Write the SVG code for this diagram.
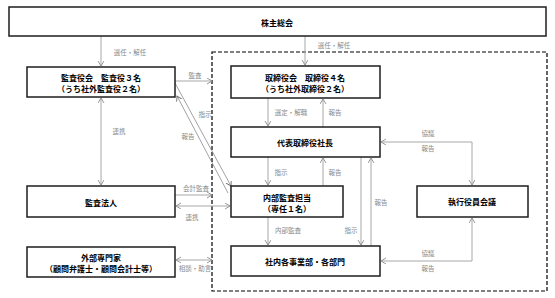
<svg xmlns="http://www.w3.org/2000/svg" width="555" height="298" viewBox="0 0 555 298">
<defs>
<marker id="arr" markerUnits="userSpaceOnUse" markerWidth="8" markerHeight="8" refX="5" refY="3" orient="auto-start-reverse" viewBox="0 0 8 8">
<path d="M0,0 L5,3 L0,6" fill="none" stroke="#8c8c8c" stroke-width="0.9"/>
</marker>
<marker id="arrd" markerUnits="userSpaceOnUse" markerWidth="8" markerHeight="8" refX="5" refY="3" orient="auto-start-reverse" viewBox="0 0 8 8">
<path d="M0,0 L5,3 L0,6" fill="none" stroke="#6e6e6e" stroke-width="0.9"/>
</marker>
</defs>
<style>
.box{fill:#fff;stroke:#1e1e1e;stroke-width:1.5}
.bt{font-family:"Noto Sans CJK JP","Noto Sans CJK SC",sans-serif;font-size:8px;font-weight:bold;fill:#000;text-anchor:middle;dominant-baseline:central}
.lbl{font-family:"Noto Sans CJK JP","Noto Sans CJK SC",sans-serif;font-size:6.5px;fill:#8a8a8a;text-anchor:middle;dominant-baseline:central}
.ln{fill:none;stroke:#a8a8a8;stroke-width:1;marker-end:url(#arr)}
.ln2{fill:none;stroke:#a8a8a8;stroke-width:1;marker-start:url(#arr);marker-end:url(#arr)}
.dg{fill:none;stroke:#7a7a7a;stroke-width:0.7;marker-end:url(#arrd)}
</style>
<rect x="0" y="0" width="555" height="298" fill="#fff"/>
<rect id="exec-area" x="212" y="52" width="335" height="239" fill="none" stroke="#000" stroke-width="1.2" stroke-dasharray="4,2"/>
<g id="connectors">
<line class="ln" x1="101" y1="36" x2="101" y2="66"/>
<line class="ln" x1="305" y1="36" x2="305" y2="65"/>
<line class="ln" x1="175" y1="81" x2="212" y2="81"/>
<line class="ln2" x1="101" y1="98" x2="101" y2="185"/>
<line class="dg" x1="175" y1="83" x2="231" y2="186"/>
<line class="dg" x1="228" y1="193" x2="177" y2="96"/>
<line class="ln" x1="268" y1="98" x2="268" y2="126"/>
<line class="ln" x1="323" y1="127" x2="323" y2="99"/>
<line class="ln" x1="268" y1="157" x2="268" y2="185"/>
<line class="ln" x1="323" y1="186" x2="323" y2="158"/>
<line class="ln" x1="268" y1="217" x2="268" y2="245"/>
<line class="ln" x1="361" y1="157" x2="361" y2="245"/>
<line class="ln" x1="371" y1="246" x2="371" y2="158"/>
<line class="ln" x1="175" y1="195" x2="212" y2="195"/>
<line class="ln2" x1="176" y1="206" x2="230" y2="206"/>
<line class="ln2" x1="176" y1="260" x2="212" y2="260"/>
<polyline class="ln2" points="381,142 472,142 472,185"/>
<polyline class="ln2" points="472,218 472,261 381,261"/>
<text class="lbl" x="130" y="52">選任・解任</text>
<text class="lbl" x="334" y="45">選任・解任</text>
<text class="lbl" x="195" y="75">監査</text>
<text class="lbl" x="119" y="131">連携</text>
<text class="lbl" x="205" y="114">指示</text>
<text class="lbl" x="188" y="136">報告</text>
<text class="lbl" x="291" y="112">選定・解職</text>
<text class="lbl" x="335" y="112">報告</text>
<text class="lbl" x="281" y="172">指示</text>
<text class="lbl" x="335" y="172">報告</text>
<text class="lbl" x="288" y="230">内部監査</text>
<text class="lbl" x="351" y="230">指示</text>
<text class="lbl" x="381" y="202">報告</text>
<text class="lbl" x="196" y="188">会計監査</text>
<text class="lbl" x="192" y="217">連携</text>
<text class="lbl" x="195" y="268">相談・助言</text>
<text class="lbl" x="428" y="133">協議</text>
<text class="lbl" x="428" y="148">報告</text>
<text class="lbl" x="428" y="253">協議</text>
<text class="lbl" x="428" y="268">報告</text>
</g>
<g id="shareholders">
<rect class="box" x="9" y="7" width="537" height="29"/>
<text class="bt" x="277" y="22">株主総会</text>
</g>
<g id="kansayakukai">
<rect class="box" x="27" y="67" width="148" height="30"/>
<text class="bt" x="101" y="77">監査役会　監査役３名</text>
<text class="bt" x="101" y="88">（うち社外監査役２名）</text>
</g>
<g id="torishimariyakukai">
<rect class="box" x="231" y="66" width="149" height="32"/>
<text class="bt" x="305" y="77">取締役会　取締役４名</text>
<text class="bt" x="305" y="88">（うち社外取締役２名）</text>
</g>
<g id="president">
<rect class="box" x="231" y="127" width="149" height="30"/>
<text class="bt" x="305" y="142">代表取締役社長</text>
</g>
<g id="auditfirm">
<rect class="box" x="27" y="186" width="148" height="31"/>
<text class="bt" x="101" y="202">監査法人</text>
</g>
<g id="internalaudit">
<rect class="box" x="231" y="186" width="112" height="31"/>
<text class="bt" x="287" y="197">内部監査担当</text>
<text class="bt" x="287" y="208">（専任１名）</text>
</g>
<g id="executive">
<rect class="box" x="417" y="186" width="111" height="31"/>
<text class="bt" x="472" y="201">執行役員会議</text>
</g>
<g id="experts">
<rect class="box" x="27" y="247" width="148" height="30"/>
<text class="bt" x="101" y="257">外部専門家</text>
<text class="bt" x="101" y="268">（顧問弁護士・顧問会計士等）</text>
</g>
<g id="departments">
<rect class="box" x="231" y="246" width="149" height="30"/>
<text class="bt" x="305" y="261">社内各事業部・各部門</text>
</g>
</svg>
